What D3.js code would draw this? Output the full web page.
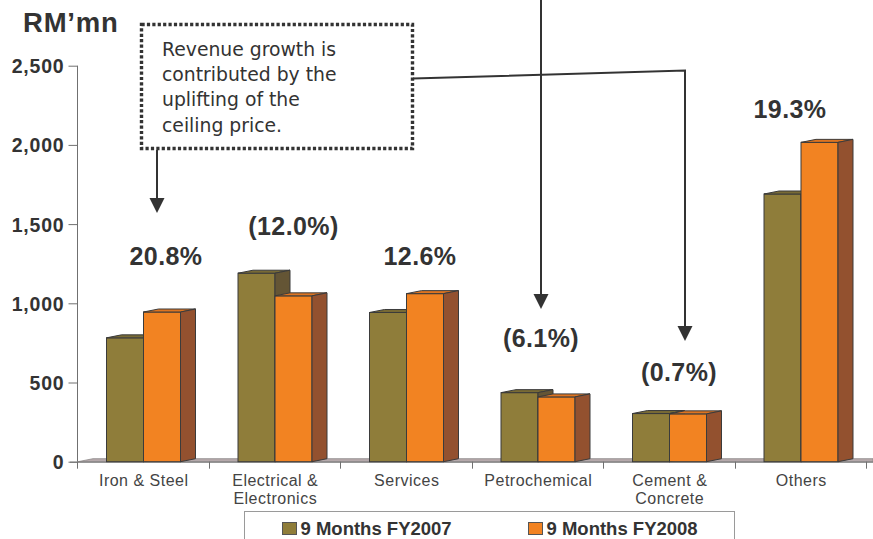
<!DOCTYPE html>
<html>
<head>
<meta charset="utf-8">
<script src="https://cdn.jsdelivr.net/npm/d3@7"></script>
<style>
  html, body { margin: 0; padding: 0; background: #fff; }
  svg { display: block; }
</style>
</head>
<body>
<svg id="chart" width="873" height="539"></svg>
<script>
// Revenue by customer sector, RM million
const categories = [["Iron & Steel"], ["Electrical &", "Electronics"], ["Services"], ["Petrochemical"], ["Cement &", "Concrete"], ["Others"]];
const seriesNames = ["9 Months FY2007", "9 Months FY2008"];
const fy2007 = [782, 1190, 942, 436, 304, 1690];
const fy2008 = [945, 1047, 1061, 409, 302, 2016];
const growthLabels = ["20.8%", "(12.0%)", "12.6%", "(6.1%)", "(0.7%)", "19.3%"];
const yTicks = [0, 500, 1000, 1500, 2000, 2500];
const noteLines = ["Revenue growth is", "contributed by the", "uplifting of the", "ceiling price."];

// growth label placement: baseline on the value axis, centre offset within the band (px)
const growthLabelAt = [1242, 1431, 1242, 726, 511, 2170];
const growthLabelDx = [88, 84, 79, 68.5, 75, 54.5];

const colors = {
  front: ["#8f7d3a", "#f28322"],
  top:   ["#786a35", "#de7420"],
  side:  ["#645535", "#93512f"],
  edge: "#3b3b3b",
  text: "#333333"
};

const svg = d3.select("#chart");
const y = d3.scaleLinear().domain([0, 2500]).range([461.7, 65.7]);
const x = d3.scaleBand().domain(d3.range(categories.length)).range([78, 867]).padding(0);
const depthX = 15, depthY = -3, barW = 37, barInset = 28.5;
const y0 = y(0);

// floor slab
svg.append("polygon")
  .attr("points", [[78, y0], [78 + depthX, y0 + depthY], [873, y0 + depthY], [873, y0]].join(" "))
  .attr("fill", "#b5a9ab").attr("stroke", "#8a8585").attr("stroke-width", 0.8);
svg.append("line").attr("x1", 70).attr("x2", 873).attr("y1", y0 + 0.5).attr("y2", y0 + 0.5)
  .attr("stroke", "#6f6f6f").attr("stroke-width", 1);

// y axis
const yAxis = d3.axisLeft(y).tickValues(yTicks).tickSize(9).tickPadding(4)
  .tickFormat(d3.format(","));
const yg = svg.append("g").attr("transform", "translate(77.5,0)").call(yAxis);
yg.select(".domain").attr("stroke", "#707070").attr("d", `M0,${y(2500)}V${y0}`);
yg.selectAll(".tick line").attr("stroke", "#707070");
yg.selectAll(".tick text")
  .attr("font-family", "Liberation Sans, Arial, sans-serif")
  .attr("font-weight", "bold").attr("font-size", 19.5).attr("letter-spacing", 0.8)
  .attr("fill", colors.text)
  .attr("dy", "0.36em");

svg.append("text").attr("x", 23).attr("y", 32)
  .attr("font-family", "Liberation Sans, Arial, sans-serif")
  .attr("font-weight", "bold").attr("font-size", 27.5).attr("letter-spacing", 0.8)
  .attr("fill", colors.text)
  .text("RM\u2019mn");

// category ticks and labels
svg.append("g").selectAll("line")
  .data(d3.range(0, categories.length + 1))
  .join("line")
  .attr("x1", i => Math.round(78 + i * x.bandwidth()) - 0.5)
  .attr("x2", i => Math.round(78 + i * x.bandwidth()) - 0.5)
  .attr("y1", y0).attr("y2", y0 + 7).attr("stroke", "#707070");

const catText = svg.append("g").selectAll("text").data(categories).join("text")
  .attr("x", (d, i) => x(i) + x.bandwidth() / 2)
  .attr("y", 486)
  .attr("text-anchor", "middle")
  .attr("font-family", "Liberation Sans, Arial, sans-serif")
  .attr("font-size", 16).attr("letter-spacing", 0.5).attr("fill", "#444");
catText.selectAll("tspan").data(d => d).join("tspan")
  .attr("x", function () { return d3.select(this.parentNode).attr("x"); })
  .attr("dy", (d, i) => i === 0 ? 0 : 17.5)
  .text(d => d);

// 3D bars
const series = [fy2007, fy2008];
function drawBar(g, bx, v, s) {
  const top = y(v);
  g.append("rect").attr("x", bx).attr("y", top).attr("width", barW).attr("height", y0 - top)
    .attr("fill", colors.front[s]).attr("stroke", colors.edge).attr("stroke-width", 1);
  g.append("polygon")
    .attr("points", [[bx, top], [bx + depthX, top + depthY], [bx + barW + depthX, top + depthY], [bx + barW, top]].join(" "))
    .attr("fill", colors.top[s]).attr("stroke", colors.edge).attr("stroke-width", 1).attr("stroke-linejoin", "round");
  g.append("polygon")
    .attr("points", [[bx + barW, top], [bx + barW + depthX, top + depthY], [bx + barW + depthX, y0 + depthY], [bx + barW, y0]].join(" "))
    .attr("fill", colors.side[s]).attr("stroke", colors.edge).attr("stroke-width", 1).attr("stroke-linejoin", "round");
}
const bars = svg.append("g");
categories.forEach((c, i) => {
  series.forEach((vals, s) => {
    drawBar(bars, x(i) + barInset + s * barW, vals[i], s);
  });
});

// growth labels
svg.append("g").selectAll("text").data(growthLabels).join("text")
  .attr("x", (d, i) => x(i) + growthLabelDx[i])
  .attr("y", (d, i) => y(growthLabelAt[i]))
  .attr("text-anchor", "middle")
  .attr("font-family", "Liberation Sans, Arial, sans-serif")
  .attr("font-weight", "bold").attr("font-size", 25).attr("letter-spacing", 0.4)
  .attr("fill", colors.text)
  .text(d => d);

// annotation note with arrows
const ink = "#333";
svg.append("rect").attr("x", 141.5).attr("y", 24.5).attr("width", 271).attr("height", 124)
  .attr("fill", "none").attr("stroke", ink).attr("stroke-width", 3.4)
  .attr("stroke-dasharray", "3.2,2.2");
svg.append("g").selectAll("text").data(noteLines).join("text")
  .attr("x", 162).attr("y", (d, i) => 56 + i * 25.2)
  .attr("font-family", "DejaVu Sans, Verdana, sans-serif")
  .attr("font-size", 18.8).attr("fill", ink)
  .text(d => d);

function arrowHead(tx, ty) {
  svg.append("polygon")
    .attr("points", [[tx - 7.5, ty - 15], [tx + 7.5, ty - 15], [tx, ty]].join(" "))
    .attr("fill", ink);
}
const line = d3.line();
const pathStyle = p => p.attr("fill", "none").attr("stroke", ink).attr("stroke-width", 2);
svg.append("path").attr("d", line([[157, 150], [157, 200]])).call(pathStyle);
arrowHead(157, 213);
svg.append("path").attr("d", line([[541, 0], [541, 296]])).call(pathStyle);
arrowHead(541, 309);
svg.append("path").attr("d", line([[413, 78.5], [685, 70.5], [685, 328]])).call(pathStyle);
arrowHead(685, 341);

// legend
svg.append("rect").attr("x", 244.5).attr("y", 511.5).attr("width", 490).attr("height", 40)
  .attr("fill", "#fff").attr("stroke", "#9a9a9a").attr("stroke-width", 1);
const legendX = [282.5, 528.5];
seriesNames.forEach((name, s) => {
  svg.append("rect").attr("x", legendX[s]).attr("y", 522.5).attr("width", 14).attr("height", 12)
    .attr("fill", colors.front[s]).attr("stroke", "#555").attr("stroke-width", 1);
  svg.append("text").attr("x", legendX[s] + 18).attr("y", 535)
    .attr("font-family", "Liberation Sans, Arial, sans-serif")
    .attr("font-weight", "bold").attr("font-size", 18.5).attr("fill", colors.text)
    .text(name);
});
</script>
</body>
</html>
